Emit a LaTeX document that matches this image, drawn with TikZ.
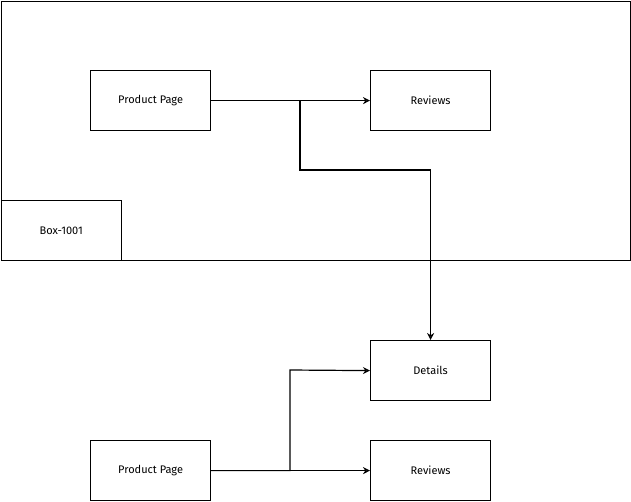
\documentclass[tikz,border=0pt]{standalone}
\usepackage{fontspec}
\setmainfont{Fira Sans}
\usetikzlibrary{arrows.meta}
\begin{document}
\begin{tikzpicture}[x=1pt,y=-1pt,
  box/.style={draw, line width=1.2pt, minimum width=120pt, minimum height=60pt, inner sep=0pt, font=\fontsize{11}{13}\selectfont, fill=white},
  conn/.style={draw, line width=1.2pt},
  arr/.style={conn, -{Stealth[open, length=7pt, width=7pt]}}]
\useasboundingbox (0,0) rectangle (631,501);
\node[draw, line width=1.2pt, minimum width=629pt, minimum height=259pt, inner sep=0pt, anchor=north west] (frame) at (1,1) {};
\node[box, anchor=north west] (box1001) at (0.6,200) {Box-1001};
\node[box, anchor=north west] (pp1) at (90,70) {Product Page};
\node[box, anchor=north west] (rv1) at (370,70) {Reviews};
\node[box, anchor=north west] (det) at (370,340) {Details};
\node[box, anchor=north west] (pp2) at (90,440) {Product Page};
\node[box, anchor=north west] (rv2) at (370,440) {Reviews};
\draw[arr] (pp1.east) -- (rv1.west);
\draw[arr] (pp1.east) -| (300,170) -| (det.north);
\draw[arr] (pp2.east) -- (rv2.west);
\draw[arr] (pp2.east) -| (290,370) -- (det.west);
\end{tikzpicture}
\end{document}
